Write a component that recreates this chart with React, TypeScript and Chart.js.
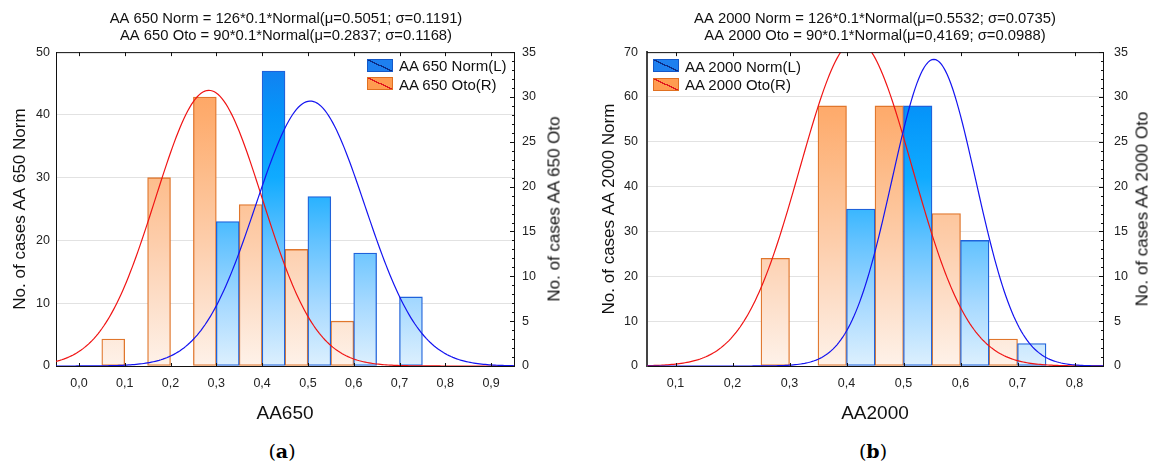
import React, { useEffect, useRef } from 'react';
import { Chart, registerables } from 'chart.js';

Chart.register(...registerables);

const SANS = "'Liberation Sans', Arial, sans-serif";
const BAR_WIDTH = 0.05;

// ---- Panel (a): AA 650 ----
const aXTicks = [0, 0.1, 0.2, 0.3, 0.4, 0.5, 0.6, 0.7, 0.8, 0.9];
const aNormStarts = [0.3, 0.4, 0.5, 0.6, 0.7];
const aNormCounts = [23, 47, 27, 18, 11];
const aOtoStarts = [0.05, 0.15, 0.25, 0.35, 0.45, 0.55];
const aOtoCounts = [3, 21, 30, 18, 13, 5];
const aNormFit = { n: 126, mu: 0.5051, sigma: 0.1191 };
const aOtoFit = { n: 90, mu: 0.2837, sigma: 0.1168 };
const aTitle = [
  'AA 650 Norm = 126*0.1*Normal(\u03bc=0.5051; \u03c3=0.1191)',
  'AA 650 Oto = 90*0.1*Normal(\u03bc=0.2837; \u03c3=0.1168)',
];

// ---- Panel (b): AA 2000 ----
const bXTicks = [0.1, 0.2, 0.3, 0.4, 0.5, 0.6, 0.7, 0.8];
const bNormStarts = [0.4, 0.5, 0.6, 0.7];
const bNormCounts = [35, 58, 28, 5];
const bOtoStarts = [0.25, 0.35, 0.45, 0.55, 0.65];
const bOtoCounts = [12, 29, 29, 17, 3];
const bNormFit = { n: 126, mu: 0.5532, sigma: 0.0735 };
const bOtoFit = { n: 90, mu: 0.4169, sigma: 0.0988 };
const bTitle = [
  'AA 2000 Norm = 126*0.1*Normal(\u03bc=0.5532; \u03c3=0.0735)',
  'AA 2000 Oto = 90*0.1*Normal(\u03bc=0,4169; \u03c3=0.0988)',
];

const NORM_STOPS: [number, string][] = [
  [0, '#DDF0FE'],
  [0.2, '#A6D9FF'],
  [0.4, '#62C2FF'],
  [0.6, '#10ABFF'],
  [0.8, '#0596FA'],
  [1, '#1778EC'],
];
const OTO_STOPS: [number, string][] = [
  [0, '#FEF2E9'],
  [0.2, '#FDDFCA'],
  [0.4, '#FDCDAA'],
  [0.6, '#FDBD8C'],
  [0.8, '#FEAC6E'],
  [1, '#FF9D55'],
];

// Expected counts of a normal fit over bins of width 0.1: n * 0.1 * pdf(x)
function fitCurve(fit: { n: number; mu: number; sigma: number }, xmin: number, xmax: number) {
  const pts: { x: number; y: number }[] = [];
  const steps = 240;
  for (let i = 0; i <= steps; i++) {
    const x = xmin + ((xmax - xmin) * i) / steps;
    const z = (x - fit.mu) / fit.sigma;
    pts.push({ x, y: (fit.n * 0.1 * Math.exp(-0.5 * z * z)) / (fit.sigma * Math.sqrt(2 * Math.PI)) });
  }
  return pts;
}

function verticalGradient(chart: any, stops: [number, string][]) {
  const { ctx, chartArea } = chart;
  if (!chartArea) return stops[stops.length - 1][1];
  const g = ctx.createLinearGradient(0, chartArea.bottom, 0, chartArea.top);
  stops.forEach(([o, c]) => g.addColorStop(o, c));
  return g;
}

// Top frame line, inward ticks on top/bottom, and minor ticks on the right axis
const frameTicks = {
  id: 'frameTicks',
  afterDatasetsDraw(chart: any) {
    const { ctx, chartArea, scales } = chart;
    const { left, right, top, bottom } = chartArea;
    ctx.save();
    ctx.strokeStyle = '#111';
    ctx.lineWidth = 1;
    ctx.beginPath();
    ctx.moveTo(left, top + 0.5);
    ctx.lineTo(right, top + 0.5);
    scales.x.ticks.forEach((t: any) => {
      const px = Math.round(scales.x.getPixelForValue(t.value)) + 0.5;
      ctx.moveTo(px, top);
      ctx.lineTo(px, top + 4);
      ctx.moveTo(px, bottom);
      ctx.lineTo(px, bottom - 3);
    });
    const y2 = scales.y2;
    for (let v = y2.min; v <= y2.max; v += 1) {
      const py = Math.round(y2.getPixelForValue(v)) + 0.5;
      const len = v % 5 === 0 ? 4 : 2;
      ctx.moveTo(right, py);
      ctx.lineTo(right - len, py);
    }
    ctx.stroke();
    ctx.restore();
  },
};

type Fit = { n: number; mu: number; sigma: number };
type PanelProps = {
  left: number;
  width: number;
  title: string[];
  xTitle: string;
  yTitle: string;
  xMin: number;
  xMax: number;
  xTicks: number[];
  yMax: number;
  normStarts: number[];
  normCounts: number[];
  otoStarts: number[];
  otoCounts: number[];
  normFit: Fit;
  otoFit: Fit;
  normLabel: string;
  otoLabel: string;
  leftAxisWidth: number;
  rightAxisWidth: number;
  yTitleOffset: number;
  yTickPad: number;
  y2TickPad: number;
  axisColor: string;
  axisWidth: number;
};

const CANVAS_H = 430;

function Panel(p: PanelProps) {
  const ref = useRef<HTMLCanvasElement | null>(null);
  useEffect(() => {
    if (!ref.current) return;
    const tickFont = { family: SANS, size: 12.5 };
    const chart = new Chart(ref.current, {
      type: 'bar',
      data: {
        datasets: [
          {
            type: 'line',
            label: p.normLabel + ' fit',
            data: fitCurve(p.normFit, p.xMin, p.xMax),
            borderColor: '#1414F0',
            borderWidth: 1.2,
            pointRadius: 0,
            yAxisID: 'y',
            order: 0,
          },
          {
            type: 'line',
            label: p.otoLabel + ' fit',
            data: fitCurve(p.otoFit, p.xMin, p.xMax),
            borderColor: '#F01414',
            borderWidth: 1.2,
            pointRadius: 0,
            yAxisID: 'y2',
            order: 0,
          },
          {
            type: 'bar',
            label: p.normLabel,
            data: p.normStarts.map((s, i) => ({ x: s + BAR_WIDTH / 2, y: p.normCounts[i] })),
            backgroundColor: (c: any) => verticalGradient(c.chart, NORM_STOPS),
            borderColor: '#1F62DA',
            borderWidth: 1.3,
            borderSkipped: false,
            grouped: false,
            barPercentage: 1,
            categoryPercentage: 1,
            yAxisID: 'y',
            order: 1,
          },
          {
            type: 'bar',
            label: p.otoLabel,
            data: p.otoStarts.map((s, i) => ({ x: s + BAR_WIDTH / 2, y: p.otoCounts[i] })),
            backgroundColor: (c: any) => verticalGradient(c.chart, OTO_STOPS),
            borderColor: '#E0762C',
            borderWidth: 1.3,
            borderSkipped: false,
            grouped: false,
            barPercentage: 1,
            categoryPercentage: 1,
            yAxisID: 'y2',
            order: 1,
          },
        ] as any,
      },
      options: {
        animation: false,
        responsive: false,
        maintainAspectRatio: false,
        layout: { padding: 0 },
        plugins: {
          legend: { display: false },
          tooltip: { enabled: false },
          title: {
            display: true,
            text: p.title,
            color: '#111',
            font: { family: SANS, size: 14.8, weight: 'normal', lineHeight: 1.18 },
            padding: { top: 9.9, bottom: 7.3 },
          },
        },
        scales: {
          x: {
            type: 'linear',
            offset: false,
            min: p.xMin,
            max: p.xMax,
            afterBuildTicks: (s: any) => {
              s.ticks = p.xTicks.map((v) => ({ value: v }));
            },
            ticks: {
              autoSkip: false,
              maxRotation: 0,
              font: tickFont,
              color: '#222',
              padding: 10,
              callback: (v: any) => Number(v).toFixed(1).replace('.', ','),
            },
            grid: { display: false, drawTicks: false, offset: false },
            border: { display: true, color: '#111', width: 1 },
            title: {
              display: true,
              text: p.xTitle,
              color: '#111',
              font: { family: SANS, size: 19, lineHeight: 1.2 },
              padding: { top: 0, bottom: 4.6 },
            },
            afterFit: (s: any) => {
              s.height = CANVAS_H - 366;
            },
          },
          y: {
            position: 'left',
            min: 0,
            max: p.yMax,
            ticks: { stepSize: 10, font: tickFont, color: '#222', padding: p.yTickPad },
            grid: { color: '#E2E2E2', drawTicks: false, lineWidth: 1 },
            border: { display: true, color: p.axisColor, width: p.axisWidth },
            title: {
              display: true,
              text: p.yTitle,
              color: '#111',
              font: { family: SANS, size: 17, lineHeight: 1.2 },
              padding: { top: p.yTitleOffset, bottom: 0 },
            },
            afterFit: (s: any) => {
              s.width = p.leftAxisWidth;
            },
          },
          y2: {
            position: 'right',
            min: 0,
            max: 35,
            ticks: { stepSize: 5, font: tickFont, color: '#222', padding: p.y2TickPad },
            grid: { drawOnChartArea: false, drawTicks: false },
            border: { display: true, color: '#111', width: 1 },
            afterFit: (s: any) => {
              s.width = p.rightAxisWidth;
            },
          },
        },
      } as any,
      plugins: [frameTicks],
    });
    return () => chart.destroy();
  }, []);
  return (
    <canvas
      ref={ref}
      width={p.width}
      height={CANVAS_H}
      style={{ position: 'absolute', left: p.left, top: 0, width: p.width, height: CANVAS_H }}
    />
  );
}

function LegendBox({ x, y, fill, line, border }: { x: number; y: number; fill: string; line: string; border: string }) {
  return (
    <div
      style={{
        position: 'absolute',
        left: x,
        top: y,
        width: 26,
        height: 13,
        boxSizing: 'border-box',
        border: `1px solid ${border}`,
        background: `linear-gradient(to top right, ${fill} calc(50% - 0.7px), ${line} calc(50% - 0.7px), ${line} calc(50% + 0.7px), ${fill} calc(50% + 0.7px))`,
      }}
    />
  );
}

function Legend({ x, y, normLabel, otoLabel }: { x: number; y: number; normLabel: string; otoLabel: string }) {
  const text = (ty: number, s: string) => (
    <div
      style={{
        position: 'absolute',
        left: x + 32,
        top: ty + 6.5,
        transform: 'translateY(-50%)',
        font: `15px ${SANS}`,
        color: '#111',
        whiteSpace: 'nowrap',
        lineHeight: 1,
      }}
    >
      {s}
    </div>
  );
  return (
    <>
      <LegendBox x={x} y={y} fill="#1E80F0" line="#0C2C86" border="#1458C8" />
      {text(y, normLabel)}
      <LegendBox x={x} y={y + 18.5} fill="#FF9C50" line="#E0161E" border="#E07020" />
      {text(y + 18.5, otoLabel)}
    </>
  );
}

function RotatedTitle({ x, y, text }: { x: number; y: number; text: string }) {
  return (
    <div
      style={{
        position: 'absolute',
        left: x,
        top: y,
        transform: 'translate(-50%, -50%) rotate(-90deg)',
        font: `17px ${SANS}`,
        color: '#111',
        whiteSpace: 'nowrap',
        lineHeight: 1,
      }}
    >
      {text}
    </div>
  );
}

function PanelLabel({ x, letter }: { x: number; letter: string }) {
  return (
    <div
      style={{
        position: 'absolute',
        left: x,
        top: 451,
        transform: 'translate(-50%, -50%)',
        font: "19px 'DejaVu Serif', serif",
        color: '#000',
        whiteSpace: 'nowrap',
        lineHeight: 1.1,
      }}
    >
      (<b>{letter}</b>)
    </div>
  );
}

export default function App() {
  return (
    <div
      style={{ position: 'absolute', left: 0, top: 0, width: 1151, height: 461, background: '#fff', overflow: 'hidden' }}
    >
      <Panel
        left={0}
        width={572}
        title={aTitle}
        xTitle="AA650"
        yTitle="No. of cases AA 650 Norm"
        xMin={-0.05}
        xMax={0.95}
        xTicks={aXTicks}
        yMax={50}
        normStarts={aNormStarts}
        normCounts={aNormCounts}
        otoStarts={aOtoStarts}
        otoCounts={aOtoCounts}
        normFit={aNormFit}
        otoFit={aOtoFit}
        normLabel="AA 650 Norm(L)"
        otoLabel="AA 650 Oto(R)"
        leftAxisWidth={56}
        rightAxisWidth={58}
        yTitleOffset={10}
        yTickPad={6}
        y2TickPad={8}
        axisColor="#111"
        axisWidth={1}
      />
      <Panel
        left={599}
        width={552}
        title={bTitle}
        xTitle="AA2000"
        yTitle="No. of cases AA 2000 Norm"
        xMin={0.05}
        xMax={0.85}
        xTicks={bXTicks}
        yMax={70}
        normStarts={bNormStarts}
        normCounts={bNormCounts}
        otoStarts={bOtoStarts}
        otoCounts={bOtoCounts}
        normFit={bNormFit}
        otoFit={bOtoFit}
        normLabel="AA 2000 Norm(L)"
        otoLabel="AA 2000 Oto(R)"
        leftAxisWidth={48}
        rightAxisWidth={48}
        yTitleOffset={0}
        yTickPad={9}
        y2TickPad={11}
        axisColor="#444"
        axisWidth={2}
      />
      <Legend x={367} y={58.5} normLabel="AA 650 Norm(L)" otoLabel="AA 650 Oto(R)" />
      <Legend x={653} y={59} normLabel="AA 2000 Norm(L)" otoLabel="AA 2000 Oto(R)" />
      <RotatedTitle x={553.5} y={209} text="No. of cases AA 650 Oto" />
      <RotatedTitle x={1142} y={209} text="No. of cases AA 2000 Oto" />
      <PanelLabel x={282} letter="a" />
      <PanelLabel x={873} letter="b" />
    </div>
  );
}
